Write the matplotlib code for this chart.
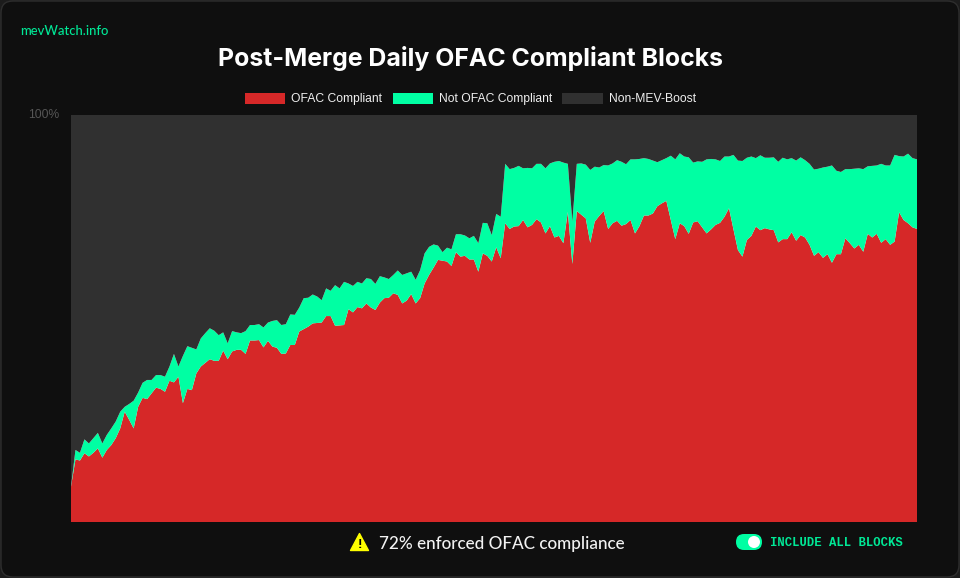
import matplotlib
matplotlib.use("Agg")
import matplotlib.pyplot as plt
import numpy as np
from matplotlib.patches import Circle, FancyBboxPatch, Patch, Polygon
from matplotlib.transforms import ScaledTranslation

# daily share of blocks, percent
ofac_compliant = [
    8.7, 15.4, 15.1, 16.9, 16.1, 17.0, 18.1, 15.8, 17.7, 18.9,
    20.6, 23.0, 27.1, 25.1, 23.0, 28.3, 30.5, 30.2, 31.6, 33.0,
    32.7, 32.0, 34.7, 34.3, 35.7, 29.2, 32.7, 32.4, 36.5, 38.2,
    39.1, 40.0, 39.6, 39.6, 42.1, 40.0, 41.9, 42.3, 42.3, 41.3,
    44.6, 44.6, 44.7, 42.9, 44.5, 43.1, 42.8, 41.3, 41.4, 43.5,
    43.5, 46.8, 47.4, 48.0, 48.8, 48.9, 49.0, 50.6, 50.6, 48.2,
    48.3, 48.4, 52.3, 51.5, 52.8, 52.5, 53.7, 52.7, 52.1, 53.9,
    55.0, 55.1, 56.2, 55.8, 53.7, 54.4, 56.0, 53.7, 55.0, 58.6,
    60.7, 62.5, 64.4, 64.2, 64.0, 62.9, 66.3, 65.2, 65.4, 64.5,
    64.5, 61.5, 66.0, 65.4, 64.0, 67.5, 64.8, 73.4, 72.0, 72.6,
    72.7, 74.2, 72.4, 73.0, 74.4, 73.6, 70.9, 72.7, 69.9, 70.3,
    68.5, 76.2, 63.4, 76.4, 75.5, 74.6, 68.6, 73.8, 75.2, 76.4,
    72.0, 73.4, 74.0, 72.8, 73.2, 74.2, 70.9, 72.7, 75.3, 75.3,
    75.8, 77.6, 78.3, 78.9, 74.2, 69.5, 73.4, 72.7, 70.8, 73.6,
    73.9, 72.4, 70.9, 71.9, 73.0, 73.5, 75.0, 77.1, 71.9, 66.8,
    65.2, 69.3, 70.3, 72.6, 71.7, 72.2, 71.9, 71.7, 68.7, 69.5,
    69.5, 71.2, 69.1, 70.5, 69.9, 68.1, 65.4, 66.3, 64.9, 65.8,
    63.7, 65.8, 65.8, 69.7, 68.5, 67.2, 68.1, 66.4, 70.8, 69.9,
    70.8, 68.6, 69.5, 68.1, 68.9, 76.1, 74.2, 73.4, 72.4, 72.0,
]

# OFAC compliant + not compliant, i.e. all MEV-Boost blocks
mev_boost_total = [
    8.7, 17.7, 17.0, 20.3, 19.3, 20.6, 21.9, 19.3, 21.4, 23.0,
    24.7, 27.1, 28.3, 29.0, 29.8, 31.8, 34.2, 34.9, 34.9, 36.1,
    36.1, 35.7, 38.2, 41.3, 38.2, 40.8, 43.2, 42.8, 42.4, 45.1,
    46.4, 47.6, 47.0, 45.9, 46.6, 43.9, 46.9, 46.6, 46.4, 46.9,
    48.4, 48.4, 48.6, 47.8, 49.0, 49.4, 49.6, 48.4, 48.6, 51.0,
    50.9, 52.7, 55.0, 55.1, 55.9, 55.4, 54.5, 57.4, 56.8, 58.2,
    57.4, 59.0, 58.6, 58.0, 59.0, 58.6, 59.9, 59.7, 58.5, 60.4,
    60.1, 59.7, 60.7, 61.8, 60.7, 61.1, 61.5, 59.5, 61.9, 66.0,
    67.6, 68.2, 67.9, 66.3, 67.4, 67.0, 70.7, 70.7, 70.4, 69.7,
    70.3, 68.5, 73.5, 73.4, 70.5, 75.7, 75.0, 88.0, 86.7, 87.0,
    87.5, 86.9, 87.0, 86.9, 88.0, 88.0, 86.9, 88.1, 88.5, 88.7,
    88.3, 88.0, 73.8, 88.0, 88.1, 87.8, 86.5, 87.3, 87.1, 87.7,
    87.6, 88.1, 88.9, 88.5, 87.9, 89.1, 89.1, 89.2, 89.4, 89.2,
    88.8, 88.4, 88.9, 89.4, 90.0, 89.1, 90.6, 89.8, 89.6, 88.3,
    88.6, 88.5, 89.1, 89.2, 89.1, 88.7, 89.8, 89.8, 90.2, 88.8,
    88.7, 89.5, 89.8, 89.4, 90.1, 89.5, 89.5, 89.6, 88.5, 89.5,
    89.1, 89.4, 88.8, 89.6, 88.9, 88.0, 86.6, 86.8, 87.1, 87.3,
    87.6, 86.3, 86.0, 86.7, 86.7, 86.8, 86.9, 86.7, 87.4, 87.5,
    87.6, 88.0, 87.6, 87.6, 90.2, 89.9, 89.8, 90.5, 89.4, 89.1,
]

series_names = ["OFAC Compliant", "Not OFAC Compliant", "Non-MEV-Boost"]
series_colors = ["#d62828", "#00ffa3", "#303030"]
y_ticks = [100]
y_tick_labels = ["100%"]

W, H = 960, 578
CARD = "#0f0f0f"

plt.rcParams["font.family"] = ["Liberation Sans", "DejaVu Sans"]

fig = plt.figure(figsize=(W / 100, H / 100), dpi=100, facecolor="#1c1c1c")

# overlay in pixel coords for the card and the bits around the chart
ui = fig.add_axes([0, 0, 1, 1], zorder=0)
ui.set_xlim(0, W)
ui.set_ylim(H, 0)
ui.axis("off")
ui.add_patch(FancyBboxPatch((1, 1), W - 2, H - 2, boxstyle="round,pad=0,rounding_size=12",
                            fc=CARD, ec="#2e2e2e", lw=1))

ax = fig.add_axes([71 / W, (H - 522) / H, 846 / W, 407 / H], zorder=1)
ofac = np.array(ofac_compliant)
total = np.array(mev_boost_total)
days = np.arange(len(ofac))
ax.stackplot(days, ofac, total - ofac, 100 - total, colors=series_colors, lw=0)
ax.set_xlim(days[0], days[-1])
ax.set_ylim(0, 100)
ax.set_xticks([])
ax.set_yticks(y_ticks)
ax.set_yticklabels(y_tick_labels, color="#555555", fontsize=8.7)
ax.tick_params(axis="y", length=0, pad=8.6)
# the label sits a little above its gridline in the original
for lab in ax.get_yticklabels():
    lab.set_transform(lab.get_transform() + ScaledTranslation(0, 0.9 / 72, fig.dpi_scale_trans))
ax.margins(0)
for s in ax.spines.values():
    s.set_visible(False)

handles = [Patch(fc=c, ec="none") for c in series_colors]
leg = fig.legend(handles, series_names, ncol=3, loc="center", bbox_to_anchor=(470.5 / W, (H - 99) / H),
                 frameon=False, fontsize=8.7, handlelength=3.33, handleheight=1.05,
                 handletextpad=0.5, columnspacing=0.85, borderpad=0, labelcolor="#eeeeee")

ui.text(20.5, 31, "mevWatch.info", color="#00e896", fontsize=9.4, family="Lato", weight="medium",
        va="center", ha="left")
ui.text(470, 58.5, "Post-Merge Daily OFAC Compliant Blocks", color="white", fontsize=17.9, family="Inter",
        weight="bold", va="center", ha="center")

# warning icon and summary line
ui.add_patch(Polygon([(359.5, 533.5), (350.5, 550.5), (368.5, 550.5)], closed=True, fc="#ffff00", ec="#ffff00",
                     lw=1, joinstyle="round"))
ui.text(359.7, 544.5, "!", color="black", fontsize=9.5, weight="bold", ha="center", va="center")
ui.text(379, 543.5, "72% enforced OFAC compliance", color="#f2f2f2", fontsize=12.3, family="Lato",
        weight="medium", va="center", ha="left")

# toggle
ui.add_patch(FancyBboxPatch((736, 534), 26, 16, boxstyle="round,pad=0,rounding_size=8", fc="#00ffa3", ec="none"))
ui.add_patch(Circle((754, 542), 6, fc="white", ec="none"))
ui.text(770, 543, "INCLUDE ALL BLOCKS", color="#00e896", fontsize=8.8, family="Liberation Mono", weight="bold",
        va="center", ha="left")

fig.savefig("out.png", dpi=100, facecolor=fig.get_facecolor())
